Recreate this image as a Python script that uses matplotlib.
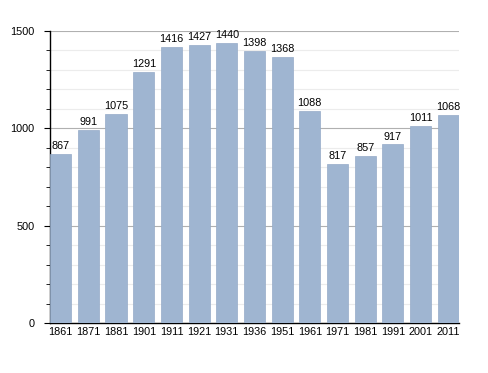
import numpy as np
import matplotlib.pyplot as plt
from matplotlib.ticker import MultipleLocator

years = ["1861", "1871", "1881", "1901", "1911", "1921", "1931", "1936",
         "1951", "1961", "1971", "1981", "1991", "2001", "2011"]
population = [867, 991, 1075, 1291, 1416, 1427, 1440, 1398,
              1368, 1088, 817, 857, 917, 1011, 1068]

plt.rcParams["font.family"] = ["Liberation Sans", "DejaVu Sans"]

fig = plt.figure(figsize=(4.88, 3.73), dpi=100)
ax = fig.add_axes([0.1025, 0.134, 0.838, 0.783])

x = np.arange(len(years))
ax.bar(x, population, width=0.77, color="#9fb5d1", edgecolor="#95abc8", linewidth=0.5, zorder=3)

for xi, v in zip(x, population):
    ax.text(xi, v + 15, str(v), ha="center", va="bottom", fontsize=7.8, zorder=4)

ax.set_xlim(-0.39, 14.39)
ax.set_ylim(0, 1500)
ax.set_xticks(x)
ax.set_xticklabels(years, fontsize=7.8)
ax.tick_params(axis="x", length=0, pad=3)
ax.yaxis.set_major_locator(MultipleLocator(500))
ax.yaxis.set_minor_locator(MultipleLocator(100))
ax.tick_params(axis="y", which="major", length=4, labelsize=7.8, pad=7)
ax.tick_params(axis="y", which="minor", length=3)
ax.grid(axis="y", which="major", color="#b0b0b0", linewidth=0.8, zorder=0)
ax.grid(axis="y", which="minor", color="#ececec", linewidth=0.8, zorder=0)

for s in ["top", "right"]:
    ax.spines[s].set_visible(False)
ax.spines["left"].set_linewidth(1)
ax.spines["bottom"].set_linewidth(1)

fig.savefig("out.png", dpi=100)
